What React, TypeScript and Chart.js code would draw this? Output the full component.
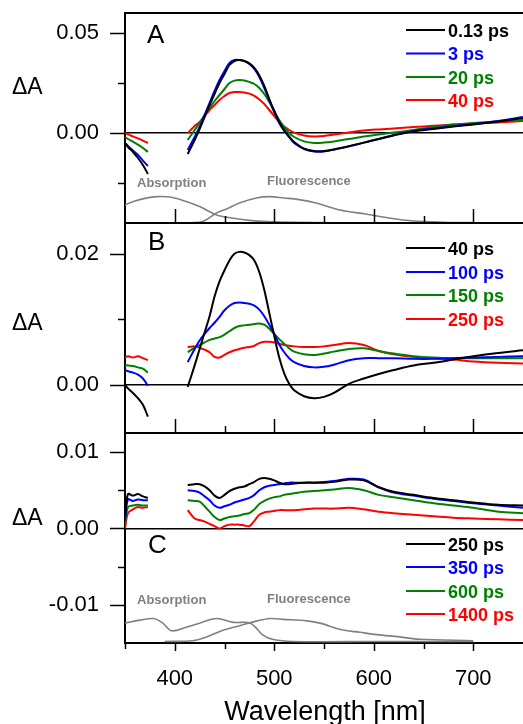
import React, { useEffect, useRef } from 'react';
import { Chart, registerables } from 'chart.js';

Chart.register(...registerables);

// ---------- data ----------
const wavelengths = [350, 353, 358, 363, 368, 373, 390, 413, 420, 425, 430, 435, 440, 445, 450, 455, 460, 465, 470, 475, 480, 485, 490, 495, 500, 505, 510, 515, 520, 530, 540, 550, 560, 575, 590, 605, 620, 640, 660, 680, 700, 725, 750];

const aBlack = [-0.005, -0.007, -0.0095, -0.0125, -0.016, -0.0205, null, -0.0105, -0.0035, 0.002, 0.008, 0.014, 0.0195, 0.025, 0.0295, 0.034, 0.036, 0.0365, 0.036, 0.0348, 0.0325, 0.0288, 0.0235, 0.017, 0.011, 0.0055, 0.0015, -0.0018, -0.0045, -0.0078, -0.009, -0.009, -0.0082, -0.0066, -0.0048, -0.003, -0.0012, 0.0008, 0.002, 0.0032, 0.0043, 0.0058, 0.0075];
const aBlue = [-0.005, -0.0065, -0.0088, -0.011, -0.0138, -0.0165, null, -0.0085, -0.002, 0.003, 0.009, 0.015, 0.021, 0.0265, 0.031, 0.035, 0.0365, 0.0365, 0.036, 0.0345, 0.032, 0.028, 0.0225, 0.0165, 0.0105, 0.005, 0.001, -0.002, -0.005, -0.008, -0.0092, -0.0092, -0.0083, -0.0067, -0.0048, -0.003, -0.001, 0.001, 0.0023, 0.0035, 0.0045, 0.006, 0.008];
const aGreen = [-0.002, -0.003, -0.0043, -0.0058, -0.0075, -0.0095, null, -0.0035, 0.0015, 0.005, 0.009, 0.0125, 0.016, 0.019, 0.022, 0.025, 0.0262, 0.0265, 0.0263, 0.0255, 0.0245, 0.0225, 0.0195, 0.0155, 0.011, 0.0065, 0.003, 0.0, -0.002, -0.0042, -0.005, -0.0048, -0.0042, -0.003, -0.0018, -0.0008, 0.0002, 0.0015, 0.003, 0.0042, 0.005, 0.0058, 0.0065];
const aRed = [0.0, -0.0007, -0.0017, -0.0027, -0.0038, -0.005, null, 0.0, 0.0035, 0.0055, 0.0085, 0.0115, 0.014, 0.0165, 0.0185, 0.02, 0.0205, 0.0205, 0.0202, 0.0197, 0.0186, 0.0168, 0.0145, 0.0115, 0.0085, 0.0055, 0.0032, 0.0015, 0.0002, -0.0012, -0.0017, -0.0015, -0.0008, 0.0003, 0.0012, 0.0018, 0.0023, 0.003, 0.0036, 0.0042, 0.0047, 0.0053, 0.006];

const bBlack = [0.0, -0.0005, -0.0012, -0.002, -0.003, -0.0048, null, -0.0003, 0.003, 0.0055, 0.008, 0.0105, 0.0135, 0.0158, 0.0175, 0.019, 0.02, 0.0203, 0.0202, 0.0198, 0.019, 0.0172, 0.0145, 0.011, 0.0075, 0.0042, 0.0018, 0.0002, -0.0008, -0.0017, -0.002, -0.0018, -0.0012, 0.0002, 0.001, 0.0017, 0.0023, 0.003, 0.0034, 0.0039, 0.0044, 0.0049, 0.0053];
const bBlue = [0.0023, 0.0021, 0.0019, 0.0016, 0.001, -0.0001, null, 0.0035, 0.0055, 0.0068, 0.0078, 0.0087, 0.0095, 0.0104, 0.0114, 0.0121, 0.0125, 0.0126, 0.0125, 0.0124, 0.0121, 0.0115, 0.0105, 0.0092, 0.0078, 0.0062, 0.005, 0.0041, 0.0035, 0.0029, 0.0027, 0.0028, 0.0031, 0.0038, 0.0041, 0.0041, 0.0041, 0.004, 0.004, 0.0041, 0.0042, 0.0043, 0.0044];
const bGreen = [0.003, 0.003, 0.0029, 0.0027, 0.0025, 0.0019, null, 0.005, 0.0057, 0.0061, 0.0065, 0.0069, 0.0071, 0.0073, 0.0077, 0.0082, 0.0087, 0.009, 0.0091, 0.0092, 0.0093, 0.0094, 0.0092, 0.0086, 0.0078, 0.007, 0.0063, 0.0056, 0.0051, 0.0047, 0.0046, 0.0048, 0.0051, 0.0055, 0.0056, 0.0052, 0.0048, 0.0044, 0.0042, 0.0041, 0.0041, 0.0041, 0.0041];
const bRed = [0.0042, 0.0044, 0.0042, 0.0044, 0.0041, 0.0038, null, 0.0058, 0.0059, 0.0057, 0.0054, 0.005, 0.0043, 0.0042, 0.0046, 0.005, 0.0053, 0.0055, 0.0057, 0.0058, 0.006, 0.0064, 0.0066, 0.0066, 0.0065, 0.0063, 0.0061, 0.006, 0.0059, 0.0058, 0.0058, 0.0059, 0.0061, 0.0064, 0.0061, 0.0052, 0.0047, 0.0043, 0.0041, 0.0039, 0.0036, 0.0034, 0.0033];

const cBlack = [0.0015, 0.0045, 0.0043, 0.0045, 0.0042, 0.004, null, 0.0057, 0.0058, 0.0058, 0.0055, 0.005, 0.0043, 0.004, 0.0044, 0.0049, 0.0052, 0.0054, 0.0055, 0.0058, 0.0061, 0.0065, 0.0066, 0.0065, 0.0063, 0.006, 0.0058, 0.0058, 0.0059, 0.006, 0.006, 0.006, 0.0061, 0.0064, 0.0063, 0.0054, 0.0048, 0.0044, 0.004, 0.0037, 0.0034, 0.0031, 0.003];
const cBlue = [0.001, 0.0038, 0.0036, 0.0038, 0.0037, 0.0037, null, 0.005, 0.0049, 0.0047, 0.0042, 0.0037, 0.003, 0.0027, 0.0029, 0.0031, 0.0034, 0.0036, 0.0038, 0.004, 0.0044, 0.005, 0.0054, 0.0056, 0.0057, 0.0058, 0.0059, 0.006, 0.006, 0.006, 0.006, 0.0061, 0.0062, 0.0065, 0.0064, 0.0054, 0.0047, 0.0043, 0.0039, 0.0036, 0.0033, 0.003, 0.0027];
const cGreen = [0.0005, 0.0028, 0.003, 0.0031, 0.003, 0.003, null, 0.0037, 0.0036, 0.0035, 0.0029, 0.0022, 0.0015, 0.0011, 0.0013, 0.0015, 0.0016, 0.0017, 0.0019, 0.002, 0.0025, 0.0032, 0.0036, 0.0039, 0.0041, 0.0042, 0.0044, 0.0045, 0.0046, 0.0048, 0.0049, 0.005, 0.0051, 0.0053, 0.005, 0.0044, 0.0041, 0.0037, 0.0033, 0.003, 0.0027, 0.0022, 0.002];
const cRed = [0.0, 0.002, 0.0025, 0.0028, 0.0027, 0.0028, null, 0.0024, 0.0013, 0.0011, 0.0009, 0.0006, 0.0003, 0.0, 0.0003, 0.0005, 0.0005, 0.0005, 0.0004, 0.0003, 0.001, 0.0018, 0.0021, 0.0022, 0.0023, 0.0024, 0.0024, 0.0024, 0.0024, 0.0025, 0.0026, 0.0026, 0.0026, 0.0027, 0.0025, 0.0022, 0.002, 0.0018, 0.0016, 0.0014, 0.0013, 0.0012, 0.0011];

// steady-state spectra (scaled into each panel's units)
const absWlA = [350, 360, 370, 382, 395, 410, 425, 442, 459, 475, 493, 520, 560, 620, 700];
const absA = [-0.036, -0.034, -0.0327, -0.0318, -0.032, -0.034, -0.0368, -0.041, -0.0426, -0.0437, -0.0443, -0.0447, -0.0449, -0.0449, -0.0449];
const fluWlA = [415, 428, 442, 452, 465, 482, 495, 510, 525, 542, 566, 592, 615, 640, 670, 700];
const fluA = [-0.0449, -0.0443, -0.04, -0.038, -0.035, -0.0325, -0.0318, -0.0325, -0.0333, -0.035, -0.0385, -0.0405, -0.0425, -0.044, -0.0446, -0.0448];
const absWlC = [350, 365, 379, 388, 397, 412, 425, 442, 459, 476, 489, 499, 519, 600, 700];
const absC = [-0.0124, -0.012, -0.0118, -0.0124, -0.0134, -0.0129, -0.0124, -0.0118, -0.0123, -0.0124, -0.014, -0.01455, -0.0148, -0.0148, -0.0148];
const fluWlC = [390, 418, 432, 449, 466, 483, 496, 509, 533, 546, 569, 586, 603, 626, 646, 700];
const fluC = [-0.0148, -0.0147, -0.0142, -0.0133, -0.0127, -0.0121, -0.0118, -0.0119, -0.0121, -0.0124, -0.0133, -0.0136, -0.0139, -0.0142, -0.0145, -0.0147];

const legendA = ['0.13 ps', '3 ps', '20 ps', '40 ps'];
const legendB = ['40 ps', '100 ps', '150 ps', '250 ps'];
const legendC = ['250 ps', '350 ps', '600 ps', '1400 ps'];
const panelLetters = ['A', 'B', 'C'];
const spectrumLabels = ['Absorption', 'Fluorescence'];

const xTickValues = [350, 400, 450, 500, 550, 600, 650, 700, 750];
const xLabelValues = [400, 500, 600, 700];
const yTicksA = [-0.025, 0, 0.025, 0.05];
const yLabelsA = [0, 0.05];
const yTicksB = [0, 0.01, 0.02];
const yLabelsB = [0, 0.02];
const yTicksC = [-0.01, -0.005, 0, 0.005, 0.01];
const yLabelsC = [-0.01, 0, 0.01];

const seriesColors = ['#000000', '#0000ff', '#008000', '#ff0000'];
const FONT = '"Liberation Sans", Arial, sans-serif';

const toPts = (xs: number[], ys: (number | null)[]) => xs.map((x, i) => ({ x, y: ys[i] }));

const panels = [
  { id: 'yA', series: [aBlack, aBlue, aGreen, aRed], legend: legendA, ticks: yTicksA, labels: yLabelsA, min: -0.045, max: 0.06, weight: 3 },
  { id: 'yB', series: [bBlack, bBlue, bGreen, bRed], legend: legendB, ticks: yTicksB, labels: yLabelsB, min: -0.0073, max: 0.0247, weight: 2 },
  { id: 'yC', series: [cBlack, cBlue, cGreen, cRed], legend: legendC, ticks: yTicksC, labels: yLabelsC, min: -0.015, max: 0.0125, weight: 1 },
];

const decorPlugin = {
  id: 'decor',
  afterDraw(chart: any) {
    const ctx = chart.ctx as CanvasRenderingContext2D;
    const xs = chart.scales.x;
    const ys = [chart.scales.yA, chart.scales.yB, chart.scales.yC];
    const left = chart.chartArea.left;
    const right = chart.chartArea.right;
    ctx.save();
    ctx.strokeStyle = '#000';
    ctx.lineCap = 'butt';
    // frame lines
    ctx.lineWidth = 2;
    [ys[0].top, ys[0].bottom, ys[1].bottom].forEach((y: number) => {
      ctx.beginPath();
      ctx.moveTo(left - 1, y);
      ctx.lineTo(right, y);
      ctx.stroke();
    });
    // x tick marks
    ctx.lineWidth = 1.5;
    xTickValues.forEach((v) => {
      const px = Math.round(xs.getPixelForValue(v)) + 0.5;
      const major = xLabelValues.includes(v);
      for (let p = 0; p < 2; p++) {
        if (v === 350 || v === 750) continue;
        const yb = ys[p].bottom;
        ctx.beginPath();
        ctx.moveTo(px, yb);
        ctx.lineTo(px, yb - (major ? 14 : 7));
        ctx.stroke();
      }
      if (v !== 750) {
        const yb = ys[2].bottom;
        ctx.beginPath();
        ctx.moveTo(px, yb);
        ctx.lineTo(px, yb + (major ? 8 : 6));
        ctx.stroke();
      }
    });
    // y tick marks
    panels.forEach((p, i) => {
      p.ticks.forEach((v) => {
        const py = Math.round(ys[i].getPixelForValue(v)) + 0.5;
        const major = p.labels.includes(v);
        ctx.beginPath();
        ctx.moveTo(left, py);
        ctx.lineTo(left - (major ? 15 : 7), py);
        ctx.stroke();
      });
    });
    // texts
    ctx.fillStyle = '#000';
    ctx.textAlign = 'left';
    ctx.textBaseline = 'alphabetic';
    const deltaOff = [81, 107, 92];
    const letterOff = [30, 27, 120];
    const letterX = [147, 148, 148];
    ys.forEach((s: any, i: number) => {
      ctx.font = `23px ${FONT}`;
      ctx.fillStyle = '#000';
      ctx.fillText('\u0394A', 12, s.top + deltaOff[i]);
      ctx.font = `26px ${FONT}`;
      ctx.fillText(panelLetters[i], letterX[i], s.top + letterOff[i]);
    });
    // legends
    const legendOff = [[17, 40.5, 64, 87], [25, 49, 72, 96], [111, 134, 158, 181]];
    panels.forEach((p, i) => {
      p.legend.forEach((lab, k) => {
        const y = ys[i].top + legendOff[i][k];
        ctx.strokeStyle = seriesColors[k];
        ctx.lineWidth = 2;
        ctx.beginPath();
        ctx.moveTo(406, y);
        ctx.lineTo(445, y);
        ctx.stroke();
        ctx.fillStyle = seriesColors[k];
        ctx.font = `bold 18px ${FONT}`;
        ctx.fillText(lab, 448, y + 6.5);
      });
    });
    // spectrum labels
    ctx.fillStyle = '#808080';
    ctx.font = `bold 13px ${FONT}`;
    ctx.fillText(spectrumLabels[0], 137, ys[0].top + 174);
    ctx.fillText(spectrumLabels[1], 267, ys[0].top + 172);
    ctx.fillText(spectrumLabels[0], 137, ys[2].top + 171);
    ctx.fillText(spectrumLabels[1], 267, ys[2].top + 170);
    // x title
    ctx.fillStyle = '#000';
    ctx.font = `27px ${FONT}`;
    ctx.textAlign = 'center';
    ctx.fillText('Wavelength [nm]', 325, 720);
    ctx.restore();
  },
};

export default function App() {
  const ref = useRef<HTMLCanvasElement | null>(null);
  useEffect(() => {
    if (!ref.current) return;
    const datasets: any[] = [];
    panels.forEach((p) => {
      p.series.forEach((ys, k) => {
        datasets.push({
          label: p.legend[k],
          data: toPts(wavelengths, ys),
          yAxisID: p.id,
          xAxisID: 'x',
          borderColor: seriesColors[k],
          borderWidth: 2,
          pointRadius: 0,
          tension: 0.35,
          spanGaps: false,
          fill: false,
        });
      });
    });
    const gray = (xs: number[], ys: number[], id: string, label: string) => ({
      label,
      data: toPts(xs, ys),
      yAxisID: id,
      xAxisID: 'x',
      borderColor: '#808080',
      borderWidth: 1.6,
      pointRadius: 0,
      tension: 0.35,
      fill: false,
    });
    datasets.unshift(
      gray(absWlA, absA, 'yA', 'Absorption A'),
      gray(fluWlA, fluA, 'yA', 'Fluorescence A'),
      gray(absWlC, absC, 'yC', 'Absorption C'),
      gray(fluWlC, fluC, 'yC', 'Fluorescence C'),
    );

    const yScale = (p: any) => ({
      type: 'linear',
      position: 'left',
      stack: 'panels',
      stackWeight: 1,
      weight: p.weight,
      min: p.min,
      max: p.max,
      afterBuildTicks: (s: any) => {
        s.ticks = p.ticks.map((v: number) => ({ value: v }));
      },
      afterFit: (s: any) => {
        s.width = 125;
        s.paddingTop = 0;
        s.paddingBottom = 0;
      },
      ticks: {
        padding: 26,
        color: '#000',
        font: { size: 22, family: FONT },
        callback: (v: number) => (p.labels.includes(v) ? v.toFixed(2) : ''),
      },
      grid: {
        drawTicks: false,
        lineWidth: 1.5,
        color: (c: any) => (c.tick && c.tick.value === 0 ? '#000' : 'rgba(0,0,0,0)'),
      },
      border: { display: true, color: '#000', width: 2 },
    });

    const chart = new Chart(ref.current, {
      type: 'line',
      data: { datasets },
      options: {
        animation: false,
        responsive: false,
        devicePixelRatio: 1,
        layout: { padding: { top: 13, left: 0, right: 0, bottom: 0 } },
        plugins: { legend: { display: false }, tooltip: { enabled: false } },
        scales: {
          x: {
            type: 'linear',
            position: 'bottom',
            min: 350,
            max: 750,
            afterBuildTicks: (s: any) => {
              s.ticks = xTickValues.map((v) => ({ value: v }));
            },
            afterFit: (s: any) => {
              s.height = 81;
              s.paddingLeft = 0;
              s.paddingRight = 0;
            },
            ticks: {
              autoSkip: false,
              maxRotation: 0,
              padding: 23,
              color: '#000',
              font: { size: 22, family: FONT },
              callback: (v: number) => (xLabelValues.includes(v) ? String(v) : ''),
            },
            grid: { display: false, drawTicks: false },
            border: { display: true, color: '#000', width: 2 },
          },
          yC: yScale(panels[2]),
          yB: yScale(panels[1]),
          yA: yScale(panels[0]),
        } as any,
      },
      plugins: [decorPlugin],
    } as any);
    return () => chart.destroy();
  }, []);

  return (
    <div style={{ position: 'absolute', left: 0, top: 0, width: 523, height: 724, background: '#fff' }}>
      <canvas ref={ref} width={523} height={724} style={{ display: 'block' }} />
    </div>
  );
}
